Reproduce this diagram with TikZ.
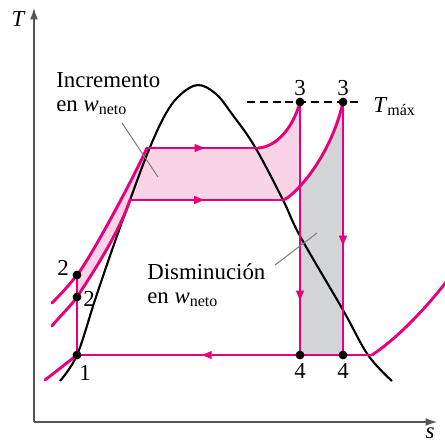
\documentclass[tikz,border=0pt]{standalone}
\usepackage{fontspec}
\setmainfont{Liberation Serif}
\usetikzlibrary{arrows.meta,decorations.markings}
\definecolor{cyclepink}{RGB}{230,0,126}
\definecolor{gainpink}{RGB}{248,212,230}
\definecolor{lossgray}{RGB}{210,212,214}
\definecolor{axisgray}{RGB}{85,85,85}
\newcommand{\wneto}{\textit{w}\textsubscript{neto}}

\begin{document}
\begin{tikzpicture}[x=0.02cm,y=-0.02cm,
        cycle/.style={draw=cyclepink,line width=1.65pt,line cap=round,line join=round},
        dome/.style={draw=black,line width=1.2pt},
        axis/.style={draw=axisgray,line width=0.7pt,-{Latex[length=6.5pt,width=4.5pt]}},
        state/.style={circle,fill=black,inner sep=0pt,minimum size=5pt},
        lbl/.style={font=\fontsize{13}{13.7}\selectfont,inner sep=0pt,align=left},
        num/.style={font=\fontsize{13}{14}\selectfont,inner sep=0pt},
        leader/.style={draw=gray,line width=0.6pt},
        flowmark/.style={postaction={decorate},decoration={markings,
          mark=at position #1 with {\arrow{Latex[length=7pt,width=5pt]}}}}]
  \useasboundingbox (0,0) rectangle (445,444);
  % state points
  \coordinate (s1) at (77,355);
  \coordinate (s2a) at (77,275);
  \coordinate (s2b) at (77,297);
  \coordinate (s3a) at (300,102);
  \coordinate (s3b) at (343,102);
  \coordinate (s4a) at (300,355);
  \coordinate (s4b) at (343,355);
  \coordinate (liqhi) at (147,148);
  \coordinate (vaphi) at (258,148);
  \coordinate (liqmid) at (130,200);
  \coordinate (vapmid) at (283,200);
  \coordinate (vaplow) at (372,355);
  % shaded areas
  \begin{scope}
    \clip (0,0) rectangle (300,444);
    \fill[gainpink] (s2a) .. controls (88,262) and (130,185) .. (liqhi) -- (vaphi)
      .. controls (278,147) and (294,125) .. (s3a) -- (s3b)
      .. controls (330,160) and (292,198) .. (vapmid) -- (liqmid)
      .. controls (120,230) and (95,270) .. (s2b) -- cycle;
  \end{scope}
  \begin{scope}
    \clip (300,0) rectangle (343,444);
    \fill[lossgray] (283,355) -- (vapmid) .. controls (292,198) and (330,160) .. (s3b)
      -- (s4b) -- cycle;
  \end{scope}
  % axes
  \coordinate (origin) at (34,422);
  \coordinate (tend) at (34,8);
  \coordinate (send) at (437,422);
  \draw[axis] (origin) -- (tend);
  \draw[axis] (origin) -- (send);
  \node[num,font=\fontsize{13}{14}\selectfont\itshape] (tlabel) at (18,19) {T};
  \node[num,font=\fontsize{13}{14}\selectfont\itshape] (slabel) at (430,433) {s};
  % saturation dome
  \draw[dome] plot[smooth,tension=0.6] coordinates {(60,381) (77,355) (95,300) (112,250)
    (130,200) (148,152) (165,115) (180,95) (198,85) (216,94) (232,114) (255,147)
    (283,200) (300,236) (343,310) (368,355) (392,381)};
  % isobars
  \draw[cycle] (52,303) .. controls (62,293) and (70,284) .. (s2a)
    .. controls (88,262) and (130,185) .. (liqhi);
  \draw[cycle,flowmark=0.54] (liqhi) -- (vaphi);
  \draw[cycle] (vaphi) .. controls (278,147) and (294,125) .. (s3a);
  \draw[cycle] (52,326) .. controls (60,316) and (70,307) .. (s2b)
    .. controls (95,270) and (120,230) .. (liqmid);
  \draw[cycle,flowmark=0.5] (liqmid) -- (vapmid);
  \draw[cycle] (vapmid) .. controls (292,198) and (330,160) .. (s3b);
  \draw[cycle] (45,380) .. controls (58,370) and (68,362) .. (s1);
  \draw[cycle,flowmark=0.585] (vaplow) -- (s1);
  \draw[cycle] (vaplow) .. controls (395,340) and (425,310) .. (450,277);
  % pump and turbines
  \draw[cycle] (s1) -- (s2a);
  \draw[cycle,flowmark=0.794] (s3a) -- (s4a);
  \draw[cycle,flowmark=0.577] (s3b) -- (s4b);
  % maximum temperature
  \coordinate (tmaxstart) at (247,102);
  \coordinate (tmaxend) at (362,102);
  \draw[line width=0.6pt,dash pattern=on 4.5pt off 2.8pt] (tmaxstart) -- (tmaxend);
  \node[num,anchor=base west] (tmax) at (373,112) {\textit{T}\textsubscript{máx}};
  % dots
  \foreach \p in {s1,s2a,s2b,s3a,s3b,s4a,s4b}
    \node[state] (dot\p) at (\p) {};
  \node[num] (n1) at (85,373) {1};
  \node[num] (n2b) at (89,299) {2};
  \node[num] (n2a) at (63,268) {2};
  \node[num] (n3a) at (300,88) {3};
  \node[num] (n3b) at (343,88) {3};
  \node[num] (n4a) at (300,371) {4};
  \node[num] (n4b) at (343,371) {4};
  % area labels
  \node[lbl,anchor=north west] (gain) at (56,72) {Incremento\\en \wneto};
  \node[lbl,anchor=north west] (loss) at (147,263) {Disminución\\en \wneto};
  \coordinate (gainfrom) at (122,123);
  \coordinate (gainto) at (158,177);
  \coordinate (lossfrom) at (275,265);
  \coordinate (lossto) at (317,233);
  \draw[leader] (gainfrom) -- (gainto);
  \draw[leader] (lossfrom) -- (lossto);
\end{tikzpicture}
\end{document}
